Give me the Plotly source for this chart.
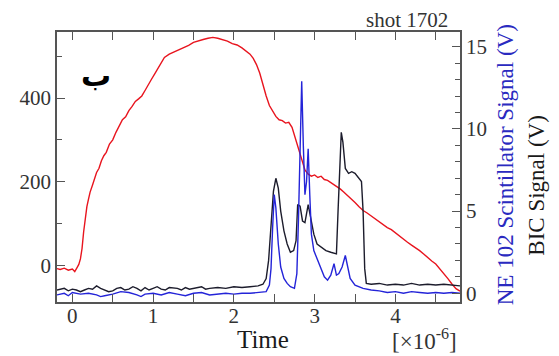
import plotly.graph_objects as go

# Red trace (left axis)
red_t = [-0.19, -0.15, -0.1, -0.05, 0.0, 0.03, 0.06, 0.08, 0.1, 0.12, 0.14, 0.16, 0.18, 0.2, 0.22, 0.25,
         0.28, 0.3, 0.33, 0.36, 0.39, 0.42, 0.46, 0.5, 0.54, 0.58, 0.62, 0.66, 0.7, 0.74, 0.78, 0.82,
         0.86, 0.9, 0.94, 0.98, 1.02, 1.06, 1.1, 1.14, 1.2, 1.26, 1.32, 1.38, 1.44, 1.5, 1.56, 1.62,
         1.68, 1.74, 1.8, 1.86, 1.92, 1.98, 2.04, 2.1, 2.16, 2.2, 2.24, 2.28, 2.32, 2.36, 2.4, 2.44,
         2.48, 2.52, 2.56, 2.6, 2.64, 2.68, 2.72, 2.76, 2.8, 2.84, 2.88, 2.92, 2.96, 3.0, 3.04, 3.08,
         3.12, 3.16, 3.2, 3.24, 3.28, 3.32, 3.36, 3.4, 3.45, 3.5, 3.55, 3.6, 3.65, 3.7, 3.75, 3.8,
         3.85, 3.9, 3.95, 4.0, 4.05, 4.1, 4.15, 4.2, 4.25, 4.3, 4.35, 4.4, 4.45, 4.5, 4.55, 4.6,
         4.65, 4.7, 4.75, 4.8]
red_v = [-8, -10, -7, -12, -9, -15, -5, 2, 15, 40, 80, 115, 140, 158, 175, 192,
         210, 222, 232, 250, 262, 270, 290, 300, 318, 335, 348, 355, 370, 380, 392, 398,
         405, 418, 430, 445, 458, 472, 485, 497, 505, 510, 515, 520, 526, 533, 537, 540,
         543, 545, 543, 540, 536, 530, 527, 520, 512, 505, 495, 480, 460, 430, 405, 382,
         368, 356, 348, 346, 340, 342, 330, 305, 275, 252, 228, 218, 213, 216, 210, 213,
         205, 203, 198, 193, 188, 182, 175, 168, 160, 150, 140, 131, 125, 118, 110, 105,
         97, 90, 85, 77, 70, 63, 55, 48, 42, 35, 27, 18, 10, 3, -8, -20,
         -32, -45, -56, -62]

# BIC signal (black, right axis)
bic_t = [-0.19, -0.1, -0.05, 0.0, 0.05, 0.1, 0.15, 0.2, 0.25, 0.3, 0.35, 0.4, 0.45, 0.5, 0.55, 0.6,
         0.65, 0.7, 0.75, 0.8, 0.85, 0.9, 0.95, 1.0, 1.05, 1.1, 1.15, 1.2, 1.3, 1.35, 1.4, 1.45,
         1.5, 1.6, 1.65, 1.7, 1.8, 1.9, 2.0, 2.1, 2.2, 2.3, 2.36, 2.4, 2.43, 2.46, 2.49, 2.52,
         2.55, 2.58, 2.62, 2.66, 2.7, 2.74, 2.77, 2.79, 2.82, 2.85, 2.88, 2.92, 2.95, 2.99, 3.03, 3.08,
         3.14, 3.2, 3.27, 3.29, 3.31, 3.33, 3.35, 3.38, 3.42, 3.46, 3.5, 3.55, 3.58, 3.6, 3.62, 3.64,
         3.7, 3.8, 3.9, 4.0, 4.1, 4.2, 4.3, 4.4, 4.5, 4.6, 4.7, 4.8]
bic_v = [0.2, 0.3, 0.15, 0.25, 0.2, 0.1, 0.2, 0.3, 0.25, 0.45, 0.3, 0.2, 0.1, 0.15, 0.3, 0.35,
         0.2, 0.25, 0.4, 0.3, 0.15, 0.35, 0.2, 0.3, 0.4, 0.25, 0.2, 0.35, 0.3, 0.2, 0.35, 0.25,
         0.3, 0.4, 0.25, 0.3, 0.35, 0.3, 0.4, 0.35, 0.4, 0.45, 0.55, 0.9, 2.0, 4.0, 6.2, 7.0,
         6.4, 5.0, 3.8, 3.0, 2.5, 2.6, 3.2, 5.4, 5.3, 4.4, 4.3, 5.4, 4.6, 3.6, 3.0, 2.8,
         2.6, 2.5, 2.4, 5.0, 8.0, 9.8, 9.2, 7.6, 7.3, 7.4, 7.3, 7.0, 6.8, 5.0, 1.5, 0.6,
         0.55, 0.6, 0.5, 0.55, 0.5, 0.6, 0.5, 0.55, 0.5, 0.55, 0.5, 0.45]

# NE 102 scintillator signal (blue, right axis)
ne_t = [-0.19, -0.1, -0.05, 0.0, 0.1, 0.2, 0.3, 0.35, 0.4, 0.5, 0.6, 0.7, 0.8, 0.85, 0.9, 1.0,
        1.1, 1.2, 1.3, 1.4, 1.5, 1.6, 1.7, 1.8, 1.9, 2.0, 2.1, 2.2, 2.3, 2.4, 2.44, 2.46,
        2.48, 2.5, 2.52, 2.55, 2.58, 2.62, 2.66, 2.7, 2.75, 2.78, 2.8, 2.82, 2.84, 2.86, 2.88, 2.9,
        2.92, 2.94, 2.96, 2.99, 3.03, 3.07, 3.12, 3.16, 3.2, 3.24, 3.27, 3.3, 3.34, 3.38, 3.41, 3.44,
        3.5, 3.6, 3.7, 3.8, 3.9, 4.0, 4.1, 4.2, 4.3, 4.4, 4.5, 4.6, 4.7, 4.8]
ne_v = [-0.1, 0.0, -0.15, 0.05, -0.05, 0.0, -0.1, -0.2, -0.15, -0.05, 0.1, 0.05, -0.1, -0.2, -0.05, 0.0,
        -0.1, 0.05, -0.05, -0.15, 0.0, 0.05, -0.1, -0.05, 0.0, -0.05, 0.0, 0.0, 0.05, 0.1, 0.5, 1.5,
        4.0, 6.0, 5.2, 3.0, 1.6, 0.9, 0.6, 0.4, 0.3, 1.2, 4.5, 8.0, 12.9, 9.0, 6.0, 6.8,
        8.8, 6.0, 3.6, 2.6, 2.1, 1.6, 1.0, 0.8, 1.1, 1.8, 1.1, 1.2, 1.6, 2.3, 1.6, 0.9,
        0.5, 0.3, 0.2, 0.15, 0.05, 0.1, 0.0, 0.1, 0.05, 0.0, 0.05, 0.0, 0.05, 0.0]

x_ticks = [0, 1, 2, 3, 4]
left_ticks = [0, 200, 400]
right_ticks = [0, 5, 10, 15]

FONT = "Liberation Serif, Times New Roman, serif"
AX = "#555555"

fig = go.Figure()
fig.add_trace(go.Scatter(x=bic_t, y=bic_v, mode="lines", yaxis="y2",
                         line=dict(color="#1c1c2c", width=1.4), showlegend=False))
fig.add_trace(go.Scatter(x=ne_t, y=ne_v, mode="lines", yaxis="y2",
                         line=dict(color="#2424d8", width=1.4), showlegend=False))
fig.add_trace(go.Scatter(x=red_t, y=red_v, mode="lines",
                         line=dict(color="#e8141e", width=1.4), showlegend=False))

fig.update_layout(
    width=551, height=348,
    margin=dict(l=44, r=99, t=24, b=54),
    paper_bgcolor="white", plot_bgcolor="white",
    font=dict(family=FONT, size=21, color="#333333"),
    xaxis=dict(range=[-0.19, 4.80], tickvals=x_ticks, ticks="inside", ticklen=8,
               tickcolor=AX, showline=True, linecolor=AX, linewidth=1.5, mirror="ticks",
               showgrid=False, zeroline=False, ticklabelstandoff=-6,
               minor=dict(dtick=0.5, tick0=0, ticks="inside", ticklen=8, tickcolor=AX)),
    yaxis=dict(range=[-88, 558], tickvals=left_ticks, ticks="inside", ticklen=8,
               tickcolor=AX, showline=True, linecolor=AX, linewidth=1.5,
               showgrid=False, zeroline=False, ticklabelstandoff=0,
               minor=dict(dtick=100, tick0=0, ticks="inside", ticklen=5, tickcolor=AX)),
    yaxis2=dict(range=[-0.53, 15.9], tickvals=right_ticks, overlaying="y", side="right",
                ticks="inside", ticklen=8, tickcolor=AX, showline=True, linecolor=AX,
                linewidth=1.5, showgrid=False, zeroline=False, ticklabelstandoff=0,
                minor=dict(dtick=1, tick0=0, ticks="inside", ticklen=5, tickcolor=AX)),
)

ann = [
    dict(text="NE 102 Scintillator Signal (V)", x=1.112, y=0.507, textangle=-90,
         font=dict(size=23, color="#2a2ac0", family=FONT)),
    dict(text="BIC Signal (V)", x=1.19, y=0.433, textangle=-90,
         font=dict(size=23, color="#1a1a1a", family=FONT)),
    dict(text="Time", x=0.51, y=-0.14, font=dict(size=25, color="#1a1a1a", family=FONT)),
    dict(text="[×10<sup>-6</sup>]", x=0.912, y=-0.14, font=dict(size=23, color="#333333", family=FONT)),
    dict(text="shot 1702", x=0.868, y=1.043, font=dict(size=21, color="#333333", family=FONT)),
    dict(text="<b>ب</b>", x=0.098, y=0.84, font=dict(size=30, color="#000000", family="DejaVu Sans")),
]
for a in ann:
    a.update(xref="paper", yref="paper", showarrow=False, xanchor="center", yanchor="middle")
    fig.add_annotation(**a)

fig.write_html("out.html")
